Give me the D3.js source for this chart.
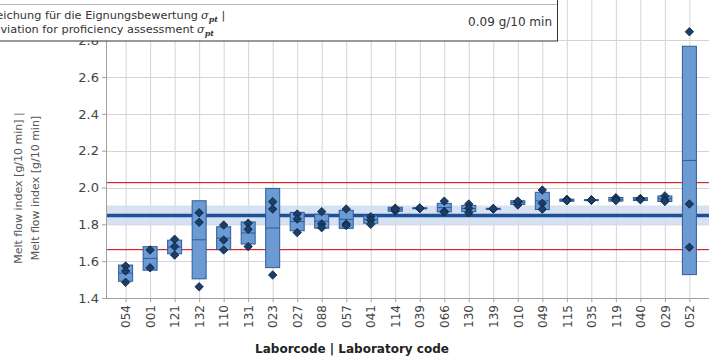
<!DOCTYPE html>
<html>
<head>
<meta charset="utf-8">
<script src="https://cdn.jsdelivr.net/npm/d3@7"></script>
<style>
  body { margin: 0; background: #fff; }
  svg { display: block; font-family: "DejaVu Sans", Verdana, sans-serif; }
</style>
</head>
<body>
<svg id="chart" width="709" height="360"></svg>
<script>
// lab results: mean line, box = mean ± s, diamonds = single readings
const labs = ["054", "001", "121", "132", "110", "131", "023", "027", "088", "057", "041", "114",
  "039", "066", "130", "139", "010", "049", "115", "035", "119", "040", "029", "052"];
const labMean = [1.535, 1.615, 1.677, 1.716, 1.725, 1.753, 1.780, 1.815, 1.817, 1.827, 1.826, 1.882,
  1.887, 1.891, 1.886, 1.884, 1.918, 1.927, 1.931, 1.932, 1.936, 1.937, 1.939, 2.147];
const labSd = [0.044, 0.064, 0.037, 0.212, 0.062, 0.060, 0.215, 0.050, 0.038, 0.049, 0.020, 0.011,
  0.003, 0.023, 0.017, 0.003, 0.010, 0.047, 0.006, 0.002, 0.010, 0.008, 0.015, 0.620];
const labValues = [
  [1.574, 1.547, 1.485], [1.661, 1.564], [1.719, 1.679, 1.633], [1.863, 1.811, 1.461],
  [1.796, 1.715, 1.661], [1.806, 1.773, 1.679], [1.923, 1.883, 1.525], [1.856, 1.829, 1.755],
  [1.869, 1.802, 1.782], [1.883, 1.802, 1.793], [1.841, 1.823, 1.800], [1.887, 1.872, 1.884],
  [1.887, 1.886, 1.889], [1.926, 1.870, 1.866], [1.910, 1.887, 1.863], [1.884, 1.883, 1.886],
  [1.923, 1.905, 1.926], [1.986, 1.914, 1.882], [1.936, 1.930, 1.928], [1.932, 1.931, 1.933],
  [1.945, 1.934, 1.929], [1.940, 1.937, 1.934], [1.954, 1.932, 1.924], [2.846, 1.910, 1.675]
];
const assigned = 1.848;      // assigned value x_pt
const sigmaPt = 0.09;        // standard deviation for proficiency assessment
const uAssigned = 0.054;     // uncertainty band of x_pt
const yTicks = [1.4, 1.6, 1.8, 2.0, 2.2, 2.4, 2.6, 2.8];

const svg = d3.select("#chart");
const W = 709, left = 106, bottom = 298;

const x = d3.scalePoint().domain(labs).range([left, W]).padding(0.8);
const y = d3.scaleLinear().domain([1.4, 2.6]).range([bottom, 77]);
const crisp = (v) => Math.round(v) + 0.5;

// grid
const grid = svg.append("g").attr("stroke", "#d4d4d4").attr("stroke-width", 1);
grid.selectAll("line.gx").data(labs).join("line").attr("class", "gx")
  .attr("x1", (d) => x(d) + 0.5).attr("x2", (d) => x(d) + 0.5)
  .attr("y1", bottom).attr("y2", 0);
grid.selectAll("line.gy").data(yTicks).join("line").attr("class", "gy")
  .attr("x1", left).attr("x2", W)
  .attr("y1", (d) => crisp(y(d))).attr("y2", (d) => crisp(y(d)));

// assigned value, its uncertainty and ±2 sigma limits
svg.append("rect")
  .attr("x", left).attr("width", W - left)
  .attr("y", y(assigned + uAssigned)).attr("height", y(assigned - uAssigned) - y(assigned + uAssigned))
  .attr("fill", "#cfdcee").attr("opacity", 0.85);
svg.append("g").selectAll("rect.lim").data([assigned - 2 * sigmaPt, assigned + 2 * sigmaPt])
  .join("rect").attr("class", "lim")
  .attr("x", left).attr("width", W - left)
  .attr("y", (d) => Math.round(y(d))).attr("height", 1.2)
  .attr("fill", "#e02424");
svg.append("line")
  .attr("x1", left).attr("x2", W).attr("y1", y(assigned)).attr("y2", y(assigned))
  .attr("stroke", "#1d4f9b").attr("stroke-width", 3.5);

// boxes
const bw = 14;
const box = svg.append("g").selectAll("g").data(labs).join("g");
box.append("rect")
  .attr("x", (d) => x(d) - bw / 2).attr("width", bw)
  .attr("y", (d, i) => y(labMean[i] + labSd[i]))
  .attr("height", (d, i) => Math.max(1, y(labMean[i] - labSd[i]) - y(labMean[i] + labSd[i])))
  .attr("fill", "#6b9bd2").attr("stroke", "#2d5c9c").attr("stroke-width", 1);
box.append("line")
  .attr("x1", (d) => x(d) - bw / 2).attr("x2", (d) => x(d) + bw / 2)
  .attr("y1", (d, i) => y(labMean[i])).attr("y2", (d, i) => y(labMean[i]))
  .attr("stroke", "#2d5c9c").attr("stroke-width", 1);

// single readings
const diamond = d3.symbol(d3.symbolDiamond2, 46);
box.each(function (d, i) {
  d3.select(this).selectAll("path").data(labValues[i]).join("path")
    .attr("d", diamond)
    .attr("transform", (v) => `translate(${x(d)},${y(v)})`)
    .attr("fill", "#1c3d66").attr("stroke", "#0c2340").attr("stroke-width", 0.8);
});

// axes
const axisColor = "#a0a0a0";
const gy = svg.append("g").attr("transform", `translate(${left},0)`)
  .call(d3.axisLeft(y).tickValues(yTicks).tickSize(4).tickPadding(3).tickFormat(d3.format(".1f")));
gy.select(".domain").remove();
gy.selectAll(".tick line").attr("stroke", axisColor);
gy.selectAll(".tick text").attr("font-size", 13).attr("fill", "#444")
  .attr("font-family", "DejaVu Sans, Verdana, sans-serif");

const gx = svg.append("g").attr("transform", `translate(0,${bottom})`)
  .call(d3.axisBottom(x).tickSize(4).tickPadding(3));
gx.select(".domain").remove();
gx.selectAll(".tick line").attr("stroke", axisColor);
gx.selectAll(".tick text")
  .attr("font-size", 12).attr("fill", "#444").attr("font-family", "DejaVu Sans, Verdana, sans-serif")
  .attr("transform", "rotate(-90)").attr("text-anchor", "end")
  .attr("x", -7).attr("y", 0).attr("dy", "0.35em");

svg.append("line").attr("x1", left + 0.5).attr("x2", left + 0.5).attr("y1", 0).attr("y2", bottom)
  .attr("stroke", axisColor);
svg.append("line").attr("x1", left).attr("x2", W).attr("y1", bottom + 0.5).attr("y2", bottom + 0.5)
  .attr("stroke", axisColor);

// axis titles
svg.append("text")
  .attr("x", 352).attr("y", 353).attr("text-anchor", "middle")
  .attr("font-size", 12).attr("font-weight", "bold").attr("fill", "#222")
  .text("Laborcode | Laboratory code");
const yt = svg.append("text")
  .attr("transform", "translate(0,188) rotate(-90)")
  .attr("text-anchor", "middle").attr("font-size", 11).attr("fill", "#555");
yt.append("tspan").attr("x", 0).attr("y", 22).text("Melt flow index [g/10 min] |");
yt.append("tspan").attr("x", 0).attr("y", 39).text("Melt flow index [g/10 min]");

// sigma_pt table cell (cut off at the top left)
const leg = svg.append("g");
leg.append("rect").attr("x", -2).attr("y", -30).attr("width", 559.5).attr("height", 71)
  .attr("fill", "#fff").attr("stroke", "#333").attr("stroke-width", 1);
leg.append("line").attr("x1", 0).attr("x2", 557).attr("y1", 4.5).attr("y2", 4.5)
  .attr("stroke", "#bbb");
const sig = (str, yy, xEnd, tail) => {
  leg.append("text").attr("x", xEnd).attr("y", yy).attr("text-anchor", "end")
    .attr("font-size", 11.3).attr("fill", "#333").text(str);
  const s = leg.append("text").attr("x", xEnd + 3).attr("y", yy)
    .attr("font-size", 11.3).attr("fill", "#333");
  s.append("tspan").attr("font-style", "italic").attr("font-family", "DejaVu Serif, serif").text("σ");
  s.append("tspan").attr("font-style", "italic").attr("font-family", "DejaVu Serif, serif")
    .attr("font-weight", "bold").attr("font-size", 8).attr("dy", 2.5).text("pt");
  if (tail) s.append("tspan").attr("dy", -2.5).text("  " + tail);
};
sig("Standardabweichung für die Eignungsbewertung", 19, 198, "|");
sig("Standard deviation for proficiency assessment", 33, 194, null);
leg.append("text").attr("x", 552).attr("y", 26).attr("text-anchor", "end")
  .attr("font-size", 12).attr("fill", "#333")
  .text(d3.format(".2f")(sigmaPt) + " g/10 min");
</script>
</body>
</html>
